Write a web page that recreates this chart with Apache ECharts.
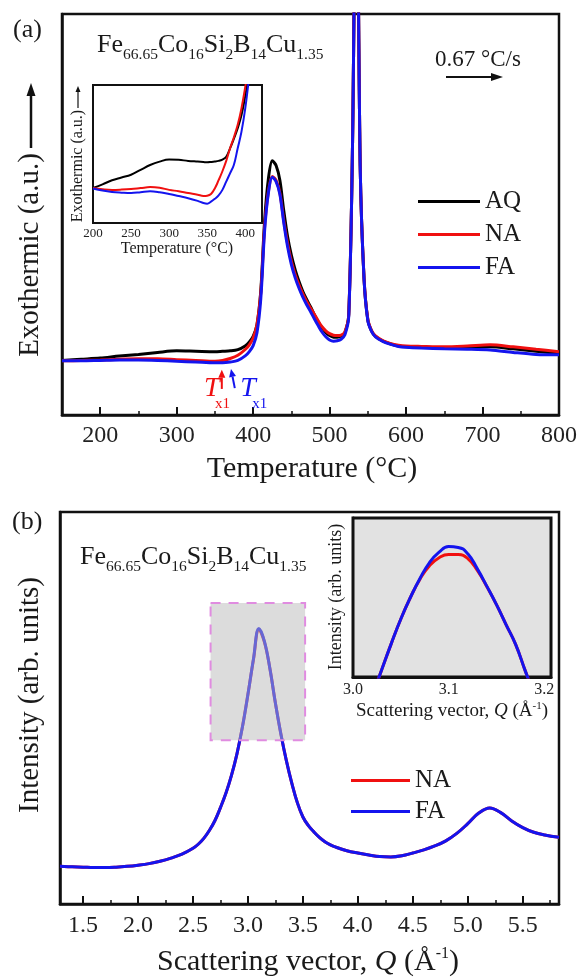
<!DOCTYPE html>
<html>
<head>
<meta charset="utf-8">
<title>DSC and scattering curves</title>
<script src="https://cdn.jsdelivr.net/npm/echarts@6/dist/echarts.min.js"></script>
<style>
html,body{margin:0;padding:0;background:#ffffff;}
#chart{width:580px;height:978px;}
</style>
</head>
<body>
<div id="chart"></div>
<script>
// ===== Panel (a): DSC traces (temperature in °C, heat flow in arbitrary units) =====
const dscTemp = [150,175,200,225,250,275,300,325,350,360,370,380,390,
  395,400,405,410,415,420,425,430,435,440,445,450,455,460,465,470,475,480,485,490,495,500,
  505,510,515,520,525,530,535,540,545,550,555,560,
  570,580,590,600,620,650,680,710,740,770,800];
const dscAQ = [13.6,13.9,14.2,14.7,15.1,15.6,16.0,15.9,15.8,15.9,16.0,16.3,17.3,
  18.2,19.6,22.5,31,48.5,59,63.4,62.2,58.5,51,44.5,39.8,36.2,33.3,30.8,28.8,27.0,25.0,23.2,21.8,20.6,19.8,
  19.4,19.4,19.7,20.6,25,68,150,62,34.1,23.7,20.9,19.6,
  18.4,17.7,17.2,17.0,16.9,16.8,16.8,17.0,16.5,15.9,15.4];
const dscNA = [13.5,13.6,13.7,13.9,14.0,14.0,13.8,13.6,13.4,13.6,14.1,14.9,16.4,
  17.5,19.2,22.5,30.5,47,55.8,59.5,58.5,55.3,48.5,42.8,38.3,35.0,32.4,30.2,28.3,26.7,25.1,23.5,22.0,21.0,20.3,
  19.9,19.8,19.9,20.7,25,68,150,62,34.2,23.8,21.0,19.7,
  18.5,17.8,17.4,17.2,17.1,17.0,17.2,17.5,17.0,16.4,15.8];
const dscFA = [13.5,13.5,13.6,13.7,13.7,13.6,13.4,13.2,13.0,13.0,13.2,13.6,14.8,
  15.8,17.3,20.5,29,46,55.5,59.3,58.2,55,48,42,37.5,34.2,31.6,29.4,27.5,25.8,24.0,22.3,20.7,19.5,18.7,
  18.4,18.5,18.9,20.0,24.5,68,150,62,34,23.5,20.8,19.5,
  18.3,17.6,17.1,16.9,16.7,16.5,16.4,16.2,15.6,15.1,15.0];

// inset of panel (a)
const dscInsetTemp = [200,212.5,225,237.5,250,262.5,275,287.5,300,312.5,325,337.5,345,350,355,360,365,370,375,380,385,390,395,400,405,410];
const dscInsetAQ = [25.4,28,31,33,35,38.5,42,44.5,46,45.8,45,44.5,44.2,44,44.2,44.5,45,46,48,54,61,68.5,78,92,110,130];
const dscInsetNA = [25.4,24.5,24,24.2,24.6,25.3,26,25.5,24,23,21.7,20.5,19.6,19.8,21,25,31,37.5,45,54,62,71,83,98.6,116,135];
const dscInsetFA = [25,23.5,22.5,22,21.7,22.3,23,22.3,21,19.5,18,16,14.5,14,15.5,17.5,20,24,30,36,42,54,66,83,105,125];

// onset markers Tx1 (temperature, heat-flow units)
const txArrowNA = [[359, 6.5], [359, 11.3]];
const txArrowFA = [[376, 6.7], [371, 11.5]];
const txLabelNA = [337, 4.5];
const txLabelFA = [383, 4.5];

// ===== Panel (b): scattering intensity =====
const scatQ = [1.29,1.4,1.5,1.6,1.7,1.8,1.9,2.0,2.1,2.2,2.3,2.4,2.5,
  2.55,2.6,2.65,2.7,2.75,2.8,2.85,2.9,2.95,3.0,3.05,3.1,3.15,3.2,3.25,3.3,3.35,3.4,3.45,3.5,3.55,3.6,3.65,3.7,3.75,3.8,
  3.9,4.0,4.1,4.2,4.3,4.4,4.5,4.6,4.7,4.8,4.9,5.0,5.1,5.2,5.3,5.4,5.5,5.6,5.7,5.83];
const scatNA = [9.6,9.5,9.4,9.3,9.3,9.4,9.6,9.9,10.3,10.9,11.7,12.7,14.2,
  15.3,16.8,18.8,21.3,24.6,28.3,32.8,38.3,45.2,53.5,62.3,70.0,66.8,60.0,51.2,43.3,36.5,30.7,25.8,22.2,20.0,18.4,17.0,15.9,15.1,14.5,
  13.6,13.0,12.5,12.1,12.0,12.3,13.0,13.8,14.8,16.1,18.0,20.5,23.2,24.5,23.3,21.2,19.5,18.3,17.6,17.0];
const scatFA = [9.6,9.5,9.4,9.3,9.3,9.4,9.6,9.9,10.3,10.9,11.7,12.7,14.2,
  15.3,16.8,18.8,21.3,24.6,28.3,32.8,38.3,45.2,53.5,62.5,70.3,67.0,60.0,51.2,43.3,36.5,30.7,25.8,22.2,20.0,18.4,17.0,15.9,15.1,14.5,
  13.6,13.0,12.5,12.1,12.0,12.3,13.0,13.8,14.8,16.1,18.0,20.5,23.2,24.5,23.3,21.2,19.5,18.3,17.6,17.0];

// inset of panel (b)
const scatInsetQ = [3.02,3.03,3.04,3.05,3.06,3.07,3.08,3.09,3.10,3.11,3.12,3.13,3.14,3.15,3.16,3.17,3.18,3.19];
const scatInsetNA = [-12,4.5,21,36.5,50,61.5,70,75,77,77,74.5,67,56.8,45.5,33,20.5,4,-12];
const scatInsetFA = [-12,4.5,21,36.5,50,62,72,78.5,82,81.5,77.5,68,57,45.5,33,20.5,4,-12];

// zoomed region marked in panel (b)
const zoomBoxQ = [2.66, 3.52];
const zoomBoxI = [41.8, 76.8];

const legendA = ['AQ', 'NA', 'FA'];
const legendB = ['NA', 'FA'];

// ===== styling =====
const FF = "'Liberation Serif','Times New Roman',serif";
const COL = {AQ: '#000000', NA: '#f01010', FA: '#1414ee'};
const TXT = '#1a1a1a';

const zip = (xs, ys) => xs.map((x, i) => [x, ys[i]]);
function lineSeries(name, idx, xs, ys, color, width, z, smooth) {
  return {
    type: 'line', name: name, xAxisIndex: idx, yAxisIndex: idx,
    data: zip(xs, ys), showSymbol: false, symbol: 'none',
    smooth: smooth, clip: true,
    lineStyle: {color: color, width: width}, itemStyle: {color: color},
    z: z, silent: true
  };
}
function xAxisDef(idx, min, max, split, fmt, labelSize, margin, tickLen, minorLen, lw) {
  return {
    type: 'value', gridIndex: idx, min: min, max: max, splitNumber: split,
    axisLine: {show: true, onZero: false, lineStyle: {color: '#111', width: lw}},
    axisTick: {show: true, inside: true, length: tickLen, lineStyle: {color: '#111', width: 2}},
    minorTick: {show: true, splitNumber: 2, length: minorLen, lineStyle: {color: '#111', width: 1.5}},
    axisLabel: {show: true, formatter: fmt, fontFamily: FF, fontSize: labelSize, color: '#222', margin: margin, showMinLabel: true, showMaxLabel: true},
    splitLine: {show: false}
  };
}
function yAxisDef(idx, lw) {
  return {
    type: 'value', gridIndex: idx, min: 0, max: 100,
    axisLine: {show: true, onZero: false, lineStyle: {color: '#111', width: lw}},
    axisTick: {show: false}, axisLabel: {show: false}, splitLine: {show: false}
  };
}
const near = (v, step) => Math.abs(v / step - Math.round(v / step)) < 1e-6;

const option = {
  animation: false,
  backgroundColor: '#ffffff',
  grid: [
    {left: 62, right: 21, top: 14, height: 401, show: true, borderColor: '#111', borderWidth: 2.5, backgroundColor: 'transparent'},
    {left: 93, top: 85, width: 169, height: 138, show: true, borderColor: '#111', borderWidth: 2, backgroundColor: '#ffffff', z: 5},
    {left: 60, right: 21, top: 512, height: 392, show: true, borderColor: '#111', borderWidth: 2.5, backgroundColor: 'transparent'},
    {left: 353, top: 518, width: 198, height: 159, show: true, borderColor: '#111', borderWidth: 3, backgroundColor: '#e2e2e2', z: 5}
  ],
  xAxis: [
    xAxisDef(0, 150, 800, 7, v => near(v, 100) ? String(Math.round(v)) : '', 24, 9, 8, 4, 2.5),
    xAxisDef(1, 200, 422, 4, v => near(v, 50) ? String(Math.round(v)) : '', 13, 4, 4, 2, 2),
    xAxisDef(2, 1.29, 5.83, 9, v => near(v, 0.5) ? v.toFixed(1) : '', 24, 10, 8, 4, 2.5),
    xAxisDef(3, 3.0, 3.207, 2, v => near(v, 0.1) ? v.toFixed(1) : '', 16, 5, 5, 3, 3)
  ],
  yAxis: [yAxisDef(0, 2.5), yAxisDef(1, 2), yAxisDef(2, 2.5), yAxisDef(3, 3)],
  legend: [
    {data: legendA, orient: 'vertical', left: 413, top: 184, itemWidth: 62, itemHeight: 3, itemGap: 8, icon: 'rect',
     selectedMode: false, textStyle: {fontFamily: FF, fontSize: 25, color: TXT}},
    {data: legendB, orient: 'vertical', left: 346, top: 763, itemWidth: 59, itemHeight: 3, itemGap: 6, icon: 'rect',
     selectedMode: false, textStyle: {fontFamily: FF, fontSize: 25, color: TXT}}
  ],
  series: [
    lineSeries('AQ', 0, dscTemp, dscAQ, COL.AQ, 3, 2, 0.3),
    lineSeries('NA', 0, dscTemp, dscNA, COL.NA, 3, 3, 0.3),
    lineSeries('FA', 0, dscTemp, dscFA, COL.FA, 3, 4, 0.3),
    lineSeries('AQ inset', 1, dscInsetTemp, dscInsetAQ, COL.AQ, 2, 6, 0.4),
    lineSeries('NA inset', 1, dscInsetTemp, dscInsetNA, COL.NA, 2, 7, 0.4),
    lineSeries('FA inset', 1, dscInsetTemp, dscInsetFA, COL.FA, 2, 8, 0.4),
    lineSeries('NA', 2, scatQ, scatNA, COL.NA, 3, 3, 0.4),
    lineSeries('FA', 2, scatQ, scatFA, COL.FA, 3, 4, 0.4),
    lineSeries('NA inset', 3, scatInsetQ, scatInsetNA, COL.NA, 3, 6, 0.5),
    lineSeries('FA inset', 3, scatInsetQ, scatInsetFA, COL.FA, 3, 7, 0.5),
    {
      type: 'custom', name: 'zoom region', xAxisIndex: 2, yAxisIndex: 2, z: 10, silent: true,
      data: [[zoomBoxQ[0], zoomBoxQ[1], zoomBoxI[0], zoomBoxI[1]]],
      renderItem: function (params, api) {
        const p0 = api.coord([api.value(0), api.value(3)]);
        const p1 = api.coord([api.value(1), api.value(2)]);
        return {
          type: 'rect',
          shape: {x: p0[0], y: p0[1], width: p1[0] - p0[0], height: p1[1] - p0[1]},
          style: {fill: 'rgba(185,185,185,0.5)', stroke: '#e08ce0', lineWidth: 2, lineDash: [10, 8]}
        };
      }
    }
  ]
};

const chart = echarts.init(document.getElementById('chart'));
chart.setOption(option);

// ===== text and arrow annotations =====
const mctx = document.createElement('canvas').getContext('2d');
function fontStr(fs, italic) { return (italic ? 'italic ' : '') + fs + 'px ' + FF; }
function tw(t, f) { mctx.font = f; return mctx.measureText(t).width; }
// parts: [text, fontSize, dy, italic, color]
function run(parts, x, baseline, align, color) {
  const widths = parts.map(p => tw(p[0], fontStr(p[1], p[3])));
  const total = widths.reduce((a, b) => a + b, 0);
  let cx = align === 'center' ? x - total / 2 : x;
  return parts.map((p, i) => {
    const el = {
      type: 'text', x: cx, y: baseline + (p[2] || 0) - 0.3 * p[1], z: 100, silent: true,
      style: {text: p[0], font: fontStr(p[1], p[3]), fill: p[4] || color || TXT, align: 'left', verticalAlign: 'middle'}
    };
    cx += widths[i];
    return el;
  });
}
function vtext(text, fs, cx, cy) {
  return {type: 'text', x: cx, y: cy, rotation: Math.PI / 2, z: 100, silent: true,
    style: {text: text, font: fontStr(fs, false), fill: TXT, align: 'center', verticalAlign: 'middle'}};
}
function arrow(x1, y1, x2, y2, color, lw, hl, hw) {
  const dx = x2 - x1, dy = y2 - y1, L = Math.hypot(dx, dy), ux = dx / L, uy = dy / L;
  const bx = x2 - ux * hl, by = y2 - uy * hl, px = -uy, py = ux;
  return [
    {type: 'line', z: 100, silent: true, shape: {x1: x1, y1: y1, x2: bx, y2: by}, style: {stroke: color, lineWidth: lw}},
    {type: 'polygon', z: 100, silent: true, shape: {points: [[x2, y2], [bx + px * hw / 2, by + py * hw / 2], [bx - px * hw / 2, by - py * hw / 2]]}, style: {fill: color}}
  ];
}
const formula = (fs, ss, dy) => [['Fe', fs], ['66.65', ss, dy], ['Co', fs], ['16', ss, dy], ['Si', fs], ['2', ss, dy], ['B', fs], ['14', ss, dy], ['Cu', fs], ['1.35', ss, dy]];

const els = [];
els.push(...run([['(a)', 26]], 13, 38, 'left'));
els.push(...run([['(b)', 26]], 12, 530, 'left'));
els.push(...run(formula(26, 15.5, 7), 97, 53, 'left'));
els.push(...run(formula(26, 15.5, 7), 80, 565, 'left'));
els.push(...run([['0.67 °C/s', 23]], 478, 67, 'center'));
els.push(...arrow(446, 77, 503, 77, '#111', 2, 12, 8));
els.push(...run([['Temperature (°C)', 30]], 312, 478, 'center'));
els.push(...run([['Scattering vector, ', 30], ['Q', 30, 0, true], [' (Å', 30], ['-1', 16, -12], [')', 30]], 308, 971, 'center'));
els.push(vtext('Exothermic (a.u.)', 29, 30, 255));
els.push(...arrow(31, 148, 31, 83, '#111', 2.5, 13, 9));
els.push(vtext('Intensity (arb. units)', 29, 30, 695));
// inset (a)
els.push(vtext('Exothermic (a.u.)', 16, 78, 166));
els.push(...arrow(78, 108, 78, 86, '#111', 1.2, 6, 5));
els.push(...run([['Temperature (°C)', 16]], 177, 254, 'center'));
// inset (b)
els.push(vtext('Intensity (arb. units)', 18, 336, 597));
els.push(...run([['Scattering vector, ', 19], ['Q', 19, 0, true], [' (Å', 19], ['-1', 11, -8], [')', 19]], 452, 717, 'center'));
// Tx1 markers
const pNA0 = chart.convertToPixel({gridIndex: 0}, txArrowNA[0]);
const pNA1 = chart.convertToPixel({gridIndex: 0}, txArrowNA[1]);
const pFA0 = chart.convertToPixel({gridIndex: 0}, txArrowFA[0]);
const pFA1 = chart.convertToPixel({gridIndex: 0}, txArrowFA[1]);
els.push(...arrow(pNA0[0], pNA0[1], pNA1[0], pNA1[1], COL.NA, 2, 8, 7));
els.push(...arrow(pFA0[0], pFA0[1], pFA1[0], pFA1[1], COL.FA, 2, 8, 7));
const lNA = chart.convertToPixel({gridIndex: 0}, txLabelNA);
const lFA = chart.convertToPixel({gridIndex: 0}, txLabelFA);
els.push(...run([['T', 28, 0, true, COL.NA]], lNA[0] - 1, lNA[1], 'left'));
els.push(...run([['x1', 15, 0, false, COL.NA]], lNA[0] + 10, lNA[1] + 12, 'left'));
els.push(...run([['T', 28, 0, true, COL.FA]], lFA[0], lFA[1], 'left'));
els.push(...run([['x1', 15, 0, false, COL.FA]], lFA[0] + 12, lFA[1] + 12, 'left'));

chart.setOption({graphic: {elements: els}});
</script>
</body>
</html>
